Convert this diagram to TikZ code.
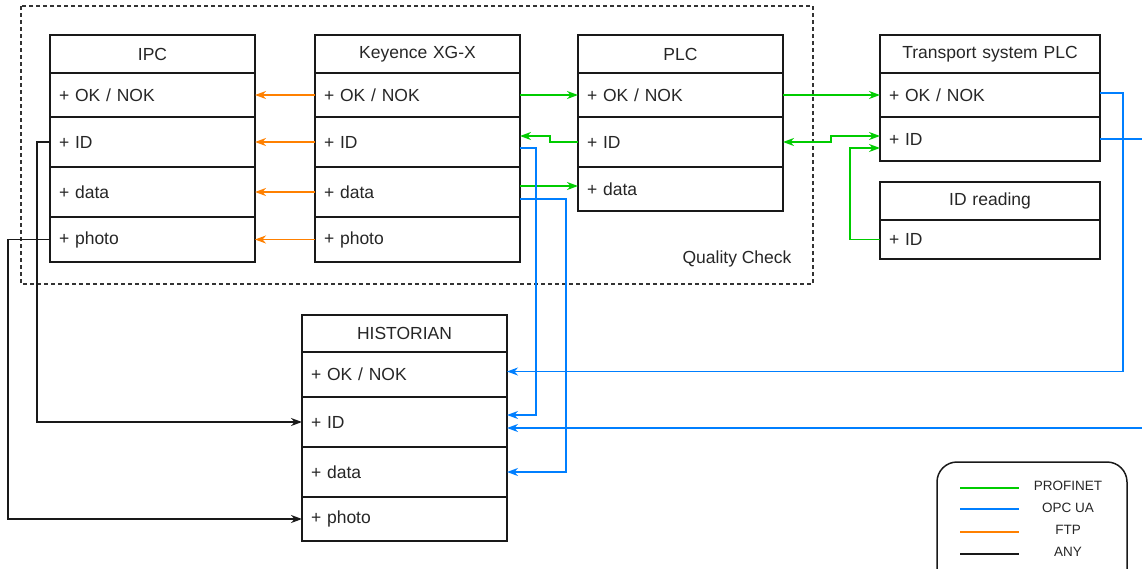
\documentclass[tikz,border=0pt]{standalone}
\usepackage{fontspec}
\setmainfont{Liberation Sans}
\usetikzlibrary{arrows.meta}
\definecolor{profinet}{RGB}{0,204,0}
\definecolor{opcua}{RGB}{0,127,255}
\definecolor{ftp}{RGB}{255,128,0}
\tikzset{
	cell/.style={draw=black!90, line width=1.5pt, anchor=north west, outer sep=0pt, inner xsep=9pt, inner ysep=0pt, text width=187pt, align=left, text=black!85},
	widecell/.style={cell, text width=202pt},
	head/.style={cell, minimum height=38pt, align=center},
	widehead/.style={widecell, minimum height=38pt, align=center},
	pn/.style={draw=profinet, line width=1.5pt},
	opc/.style={draw=opcua, line width=1.5pt},
	ftpline/.style={draw=ftp, line width=1.5pt},
	anyline/.style={draw=black!90, line width=1.5pt},
}
\begin{document}
\begin{tikzpicture}[x=1pt, y=-1pt, >={Stealth[length=11pt,width=8pt,inset=3.5pt]}, font=\fontsize{17.5}{21}\selectfont]
				\useasboundingbox (0,0) rectangle (1142,568);
				\draw[dashed, dash pattern=on 4pt off 3pt, line width=1.2pt, black!80] (21,6) rectangle (813,284);
				\node[text=black!85] (qc) at (737,259) {Quality Check};
				
				\node[head] (ipc) at (50,35) {IPC};
				\node[cell, minimum height=44pt] (ipcok) at (ipc.south west) {+ OK / NOK};
				\node[cell, minimum height=50pt] (ipcid) at (ipcok.south west) {+ ID};
				\node[cell, minimum height=50pt] (ipcdata) at (ipcid.south west) {+ data};
				\node[cell, minimum height=45pt] (ipcphoto) at (ipcdata.south west) {+ photo};
				
				\node[head] (key) at (315,35) {Keyence XG-X};
				\node[cell, minimum height=44pt] (keyok) at (key.south west) {+ OK / NOK};
				\node[cell, minimum height=50pt] (keyid) at (keyok.south west) {+ ID};
				\node[cell, minimum height=50pt] (keydata) at (keyid.south west) {+ data};
				\node[cell, minimum height=45pt] (keyphoto) at (keydata.south west) {+ photo};
				
				\node[head] (plc) at (578,35) {PLC};
				\node[cell, minimum height=44pt] (plcok) at (plc.south west) {+ OK / NOK};
				\node[cell, minimum height=50pt] (plcid) at (plcok.south west) {+ ID};
				\node[cell, minimum height=44pt] (plcdata) at (plcid.south west) {+ data};
				
				\node[widehead] (tr) at (880,35) {Transport system PLC};
				\node[widecell, minimum height=44pt] (trok) at (tr.south west) {+ OK / NOK};
				\node[widecell, minimum height=44pt] (trid) at (trok.south west) {+ ID};
				
				\node[widehead] (idr) at (880,182) {ID reading};
				\node[widecell, minimum height=39pt] (idrid) at (idr.south west) {+ ID};
				
				\node[head, minimum height=37pt] (hist) at (302,315) {HISTORIAN};
				\node[cell, minimum height=45pt] (histok) at (hist.south west) {+ OK / NOK};
				\node[cell, minimum height=50pt] (histid) at (histok.south west) {+ ID};
				\node[cell, minimum height=50pt] (histdata) at (histid.south west) {+ data};
				\node[cell, minimum height=44pt] (histphoto) at (histdata.south west) {+ photo};
				
				% FTP
				\draw[ftpline, ->] (keyok.west) -- (ipcok.east);
				\draw[ftpline, ->] (keyid.west) -- (ipcid.east);
				\draw[ftpline, ->] (keydata.west) -- (ipcdata.east);
				\draw[ftpline, ->] (keyphoto.west) -- (ipcphoto.east);
				
				% PROFINET
				\draw[pn, ->] (keyok.east) -- (plcok.west);
				\draw[pn, ->] (plcid.west) -- ++(-28,0) |- ([yshift=6pt]keyid.east);
				\draw[pn, ->] ([yshift=6pt]keydata.east) -- ([yshift=6pt]keydata.east -| plcdata.west);
				\draw[pn, ->] (plcok.east) -- (trok.west);
				\draw[pn, <->] (plcid.east) -- ++(48,0) |- ([yshift=3pt]trid.west);
				\draw[pn, ->] (idrid.west) -- ++(-30,0) |- ([yshift=-9pt]trid.west);
				
				% OPC UA
				\draw[opc, ->] ([yshift=-6pt]keyid.east) -- ++(16,0) |- ([yshift=7pt]histid.east);
				\draw[opc, ->] ([yshift=-7pt]keydata.east) -- ++(46,0) |- (histdata.east);
				\draw[opc, ->] ([yshift=2pt]trok.east) -- ++(23,0) |- ([yshift=3pt]histok.east);
				\draw[opc, ->] (trid.east) -- ++(60,0) |- ([yshift=-6pt]histid.east);
				
				% ANY
				\draw[anyline, ->] (ipcid.west) -- ++(-13,0) |- (histid.west);
				\draw[anyline, ->] (ipcphoto.west) -- ++(-42,0) |- (histphoto.west);
				
				% legend
				\draw[line width=1.5pt, black!90, rounded corners=20pt] (937,462) rectangle (1127,610);
				\node[font=\fontsize{13.5}{16}\selectfont, text=black!85] (lgpn) at (1068,486) {PROFINET};
				\node[font=\fontsize{13.5}{16}\selectfont, text=black!85] (lgopc) at (1068,508) {OPC UA};
				\node[font=\fontsize{13.5}{16}\selectfont, text=black!85] (lgftp) at (1068,530) {FTP};
				\node[font=\fontsize{13.5}{16}\selectfont, text=black!85] (lgany) at (1068,552) {ANY};
				\draw[pn] (960,488) -- (1019,488);
				\draw[opc] (960,509) -- (1019,509);
				\draw[ftpline] (960,532) -- (1019,532);
				\draw[anyline] (960,554) -- (1019,554);
			\end{tikzpicture}
\end{document}
